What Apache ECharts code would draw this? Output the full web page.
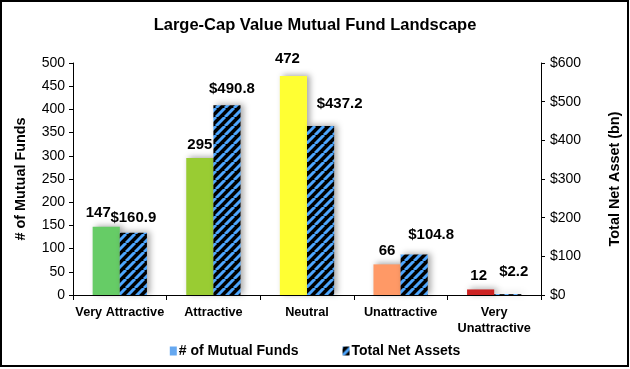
<!DOCTYPE html>
<html>
<head>
<meta charset="utf-8">
<script src="https://cdn.jsdelivr.net/npm/echarts@6/dist/echarts.min.js"></script>
<style>
html,body{margin:0;padding:0;background:#fff;}
#chart{width:630px;height:369px;}
</style>
</head>
<body>
<div id="chart"></div>
<script>
const categories = ['Very Attractive', 'Attractive', 'Neutral', 'Unattractive', 'Very\nUnattractive'];
const fundCounts = [147, 295, 472, 66, 12];
const netAssets = [160.9, 490.8, 437.2, 104.8, 2.2];
const leftTicks = { min: 0, max: 500, interval: 50 };
const rightTicks = { min: 0, max: 600, interval: 100 };
const barColors = ['#66CC66', '#99CC33', '#FFFF33', '#FF9966', '#CC2222'];
const countLabelNudge = [[-8, 0], [0, 0], [-6, -4], [0, 0], [-2, 0]];
const assetLabelNudge = [[0, 0], [5, -2], [19, -8], [17, -5], [6, -8]];

function hatch() {
  const s = 9;
  const c = document.createElement('canvas');
  c.width = s; c.height = s;
  const g = c.getContext('2d');
  g.fillStyle = '#000';
  g.fillRect(0, 0, s, s);
  g.strokeStyle = '#4DA6FF';
  g.lineWidth = 3;
  for (let k = -1; k <= 1; k++) {
    g.beginPath();
    g.moveTo(k * s, s);
    g.lineTo(k * s + s, 0);
    g.stroke();
  }
  return c;
}
const hatchPattern = { image: hatch(), repeat: 'repeat' };

const chart = echarts.init(document.getElementById('chart'), null, { renderer: 'canvas' });
const font = 'Liberation Sans, Arial, sans-serif';
const shadow = { shadowBlur: 6, shadowColor: 'rgba(0,0,0,0.35)', shadowOffsetX: 3, shadowOffsetY: -1 };

chart.setOption({
  animation: false,
  textStyle: { fontFamily: font, color: '#000' },
  title: {
    text: 'Large-Cap Value Mutual Fund Landscape',
    left: 'center', top: 12,
    textStyle: { fontFamily: font, fontSize: 16.5, fontWeight: 'bold', color: '#000' }
  },
  graphic: [{
    type: 'rect', silent: true, z: 100,
    shape: { x: 1, y: 1, width: 627, height: 365 },
    style: { fill: 'none', stroke: '#000', lineWidth: 2 }
  }],
  legend: {
    bottom: 6, left: 'center', itemGap: 44, itemWidth: 7, itemHeight: 9,
    textStyle: { fontFamily: font, fontSize: 14, fontWeight: 'bold', color: '#000', padding: [0, 0, 0, -3] },
    data: [
      { name: '# of Mutual Funds', icon: 'rect', itemStyle: { color: '#66A8F0' } },
      { name: 'Total Net Assets', icon: 'rect', itemStyle: { color: hatchPattern } }
    ]
  },
  grid: { left: 73, right: 88, top: 63, bottom: 74 },
  xAxis: {
    type: 'category', data: categories,
    axisLine: { lineStyle: { color: '#000', width: 1 } },
    axisTick: { show: true, length: 5, lineStyle: { color: '#000' } },
    axisLabel: { fontFamily: font, fontSize: 12.7, fontWeight: 'bold', color: '#000', margin: 9, interval: 0, lineHeight: 16 }
  },
  yAxis: [{
    type: 'value', min: leftTicks.min, max: leftTicks.max, interval: leftTicks.interval,
    name: '# of Mutual Funds', nameLocation: 'middle', nameGap: 45,
    nameTextStyle: { fontFamily: font, fontSize: 14.4, fontWeight: 'bold', color: '#000' },
    axisLine: { show: true, lineStyle: { color: '#000' } },
    axisTick: { show: true, length: 4, lineStyle: { color: '#000' } },
    splitLine: { show: false },
    axisLabel: { fontFamily: font, fontSize: 14, color: '#000', margin: 8 }
  }, {
    type: 'value', min: rightTicks.min, max: rightTicks.max, interval: rightTicks.interval,
    position: 'right',
    name: 'Total Net Asset (bn)', nameLocation: 'middle', nameGap: 67, nameRotate: 90,
    nameTextStyle: { fontFamily: font, fontSize: 14.4, fontWeight: 'bold', color: '#000' },
    axisLine: { show: true, lineStyle: { color: '#000' } },
    axisTick: { show: true, length: 4, lineStyle: { color: '#000' } },
    splitLine: { show: false },
    axisLabel: { fontFamily: font, fontSize: 14, color: '#000', margin: 9, formatter: v => '$' + v }
  }],
  series: [{
    name: '# of Mutual Funds', type: 'bar', yAxisIndex: 0,
    barGap: '0%', barCategoryGap: '42%',
    itemStyle: Object.assign({ color: '#66A8F0' }, shadow),
    data: fundCounts.map((v, i) => ({
      value: v,
      itemStyle: { color: barColors[i] },
      label: { offset: countLabelNudge[i] }
    })),
    label: {
      show: true, position: 'top', distance: 6,
      fontFamily: font, fontSize: 15, fontWeight: 'bold', color: '#000'
    }
  }, {
    name: 'Total Net Assets', type: 'bar', yAxisIndex: 1,
    itemStyle: Object.assign({ color: hatchPattern }, shadow),
    data: netAssets.map((v, i) => ({
      value: v,
      label: { offset: assetLabelNudge[i] }
    })),
    label: {
      show: true, position: 'top', distance: 7,
      fontFamily: font, fontSize: 15, fontWeight: 'bold', color: '#000',
      formatter: p => '$' + p.value.toFixed(1)
    }
  }]
});
</script>
</body>
</html>
